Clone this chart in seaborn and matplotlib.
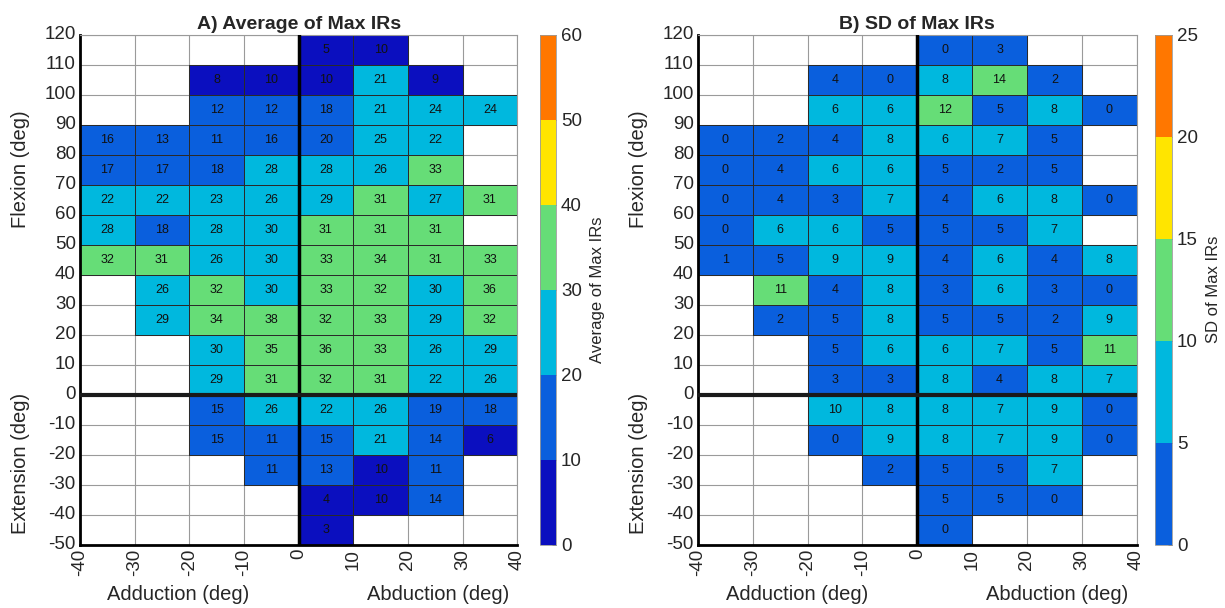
import numpy as np
import pandas as pd
import matplotlib
matplotlib.use("Agg")
import matplotlib.pyplot as plt
from matplotlib.colors import ListedColormap, BoundaryNorm, to_rgba
from matplotlib.cm import ScalarMappable
import matplotlib.transforms as mtransforms
import seaborn as sns

nan = np.nan

# bin edges (deg)
abd_edges = [-40, -30, -20, -10, 0, 10, 20, 30, 40]
flex_edges = [120, 110, 100, 90, 80, 70, 60, 50, 40, 30, 20, 10, 0,
              -10, -20, -30, -40, -50]

# A) average of max IRs, rows from 110..120 down to -50..-40
avg_rows = [
    [nan, nan, nan, nan, 5, 10, nan, nan],
    [nan, nan, 8, 10, 10, 21, 9, nan],
    [nan, nan, 12, 12, 18, 21, 24, 24],
    [16, 13, 11, 16, 20, 25, 22, nan],
    [17, 17, 18, 28, 28, 26, 33, nan],
    [22, 22, 23, 26, 29, 31, 27, 31],
    [28, 18, 28, 30, 31, 31, 31, nan],
    [32, 31, 26, 30, 33, 34, 31, 33],
    [nan, 26, 32, 30, 33, 32, 30, 36],
    [nan, 29, 34, 38, 32, 33, 29, 32],
    [nan, nan, 30, 35, 36, 33, 26, 29],
    [nan, nan, 29, 31, 32, 31, 22, 26],
    [nan, nan, 15, 26, 22, 26, 19, 18],
    [nan, nan, 15, 11, 15, 21, 14, 6],
    [nan, nan, nan, 11, 13, 10, 11, nan],
    [nan, nan, nan, nan, 4, 10, 14, nan],
    [nan, nan, nan, nan, 3, nan, nan, nan],
]

# B) SD of max IRs
sd_rows = [
    [nan, nan, nan, nan, 0, 3, nan, nan],
    [nan, nan, 4, 0, 8, 14, 2, nan],
    [nan, nan, 6, 6, 12, 5, 8, 0],
    [0, 2, 4, 8, 6, 7, 5, nan],
    [0, 4, 6, 6, 5, 2, 5, nan],
    [0, 4, 3, 7, 4, 6, 8, 0],
    [0, 6, 6, 5, 5, 5, 7, nan],
    [1, 5, 9, 9, 4, 6, 4, 8],
    [nan, 11, 4, 8, 3, 6, 3, 0],
    [nan, 2, 5, 8, 5, 5, 2, 9],
    [nan, nan, 5, 6, 6, 7, 5, 11],
    [nan, nan, 3, 3, 8, 4, 8, 7],
    [nan, nan, 10, 8, 8, 7, 9, 0],
    [nan, nan, 0, 9, 8, 7, 9, 0],
    [nan, nan, nan, 2, 5, 5, 7, nan],
    [nan, nan, nan, nan, 5, 5, 0, nan],
    [nan, nan, nan, nan, 0, nan, nan, nan],
]

avg_bounds = [0, 10, 20, 30, 40, 50, 60]
sd_bounds = [0, 5, 10, 15, 20, 25]

palette = ["#0b0fbf", "#0a5fdd", "#00b8de", "#66dd77", "#ffe500", "#ff7700"]
grid_gray = "#9a9a9a"

sns.set_style("white")
plt.rcParams["font.family"] = ["Liberation Sans", "DejaVu Sans"]

fig = plt.figure(figsize=(12.25, 6.08), dpi=100)


def draw_panel(rows, bounds, colors, title, cbar_label, ax_rect, cax_rect):
    vals = np.array(rows, dtype=float)
    cmap = ListedColormap(colors)
    # right-closed bins: a value equal to an edge takes the lower colour
    bins = np.digitize(np.nan_to_num(vals), bounds[1:-1], right=True).astype(float)
    bins[np.isnan(vals)] = np.nan
    df = pd.DataFrame(bins, index=flex_edges[:-1], columns=abd_edges[:-1])

    ax = fig.add_axes(ax_rect)
    sns.heatmap(df, ax=ax, cmap=cmap, vmin=-0.5, vmax=len(colors) - 0.5,
                annot=vals, fmt=".0f", cbar=False,
                linewidths=0.6, linecolor="#2a2a2a",
                annot_kws=dict(size=9, color="#111111"))

    # dark edges on filled cells only; empty cells show the gray grid below
    mesh = ax.collections[0]
    empty = np.isnan(vals).ravel()
    ec = [(0, 0, 0, 0) if e else to_rgba("#2a2a2a") for e in empty]
    mesh.set_edgecolor(ec)

    ax.set_xticks(np.arange(len(abd_edges)))
    ax.set_xticklabels(abd_edges, rotation=90, fontsize=13.5)
    ax.set_yticks(np.arange(len(flex_edges)))
    ax.set_yticklabels(flex_edges, rotation=0, fontsize=13.5)
    ax.tick_params(direction="in", length=5, width=1.5, pad=3)
    ax.grid(True, color=grid_gray, lw=0.8)
    ax.set_axisbelow(True)

    for s in ["left", "bottom"]:
        ax.spines[s].set_visible(True)
        ax.spines[s].set_color("black")
        ax.spines[s].set_linewidth(2)
    for s in ["top", "right"]:
        ax.spines[s].set_visible(True)
        ax.spines[s].set_color(grid_gray)
        ax.spines[s].set_linewidth(0.8)

    ax.axvline(abd_edges.index(0), color="black", lw=2.5, zorder=5)
    ax.axhline(flex_edges.index(0), color="#1a1a1a", lw=3, zorder=5)

    ax.set_xlabel("")
    ax.set_ylabel("")
    ax.set_title(title, fontsize=14, fontweight="bold", pad=4)

    ytr = mtransforms.blended_transform_factory(ax.transAxes, ax.transData)
    ax.text(-0.135, 4.5, "Flexion (deg)", transform=ytr, rotation=90,
            ha="center", va="center", fontsize=14.5)
    ax.text(-0.135, 14.3, "Extension (deg)", transform=ytr, rotation=90,
            ha="center", va="center", fontsize=14.5)
    xtr = mtransforms.blended_transform_factory(ax.transData, ax.transAxes)
    ax.text(1.8, -0.097, "Adduction (deg)", transform=xtr,
            ha="center", va="center", fontsize=14.5)
    ax.text(6.55, -0.097, "Abduction (deg)", transform=xtr,
            ha="center", va="center", fontsize=14.5)

    cax = fig.add_axes(cax_rect)
    sm = ScalarMappable(norm=BoundaryNorm(bounds, len(colors)), cmap=cmap)
    cb = fig.colorbar(sm, cax=cax, ticks=bounds)
    cb.outline.set_edgecolor(grid_gray)
    cb.outline.set_linewidth(0.6)
    cb.ax.tick_params(labelsize=13.5, length=3, direction="in", width=0.6)
    cb.set_label(cbar_label, fontsize=12, labelpad=6)
    return ax


draw_panel(avg_rows, avg_bounds, palette, "A) Average of Max IRs",
           "Average of Max IRs",
           [0.0653, 0.104, 0.357, 0.839], [0.4408, 0.104, 0.0131, 0.839])
draw_panel(sd_rows, sd_bounds, palette[1:], "B) SD of Max IRs",
           "SD of Max IRs",
           [0.5698, 0.104, 0.358, 0.839], [0.9430, 0.104, 0.0139, 0.839])

fig.savefig("out.png", dpi=100)
